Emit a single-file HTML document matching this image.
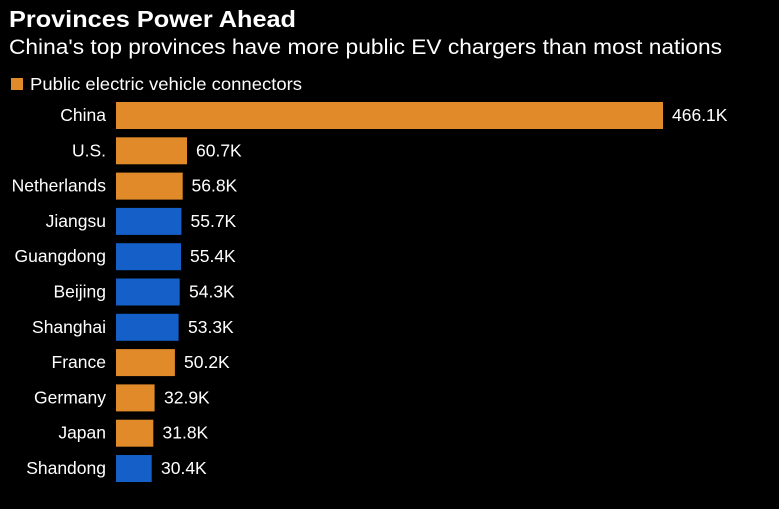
<!DOCTYPE html>
<html><head><meta charset="utf-8"><style>
html,body{margin:0;padding:0;background:#000;}
svg{display:block;font-family:"Liberation Sans",sans-serif;}
</style></head><body>
<svg width="779" height="509" xmlns="http://www.w3.org/2000/svg">
<rect width="779" height="509" fill="#000"/>
<text x="9" y="27" fill="#fff" font-size="23" font-weight="bold" textLength="287" lengthAdjust="spacingAndGlyphs">Provinces Power Ahead</text>
<text x="9" y="54" fill="#fff" font-size="21" textLength="713" lengthAdjust="spacingAndGlyphs">China's top provinces have more public EV chargers than most nations</text>
<rect x="11" y="78" width="12" height="12" fill="#e08a2a"/>
<text x="30" y="90" fill="#fff" font-size="17.5" textLength="272" lengthAdjust="spacingAndGlyphs">Public electric vehicle connectors</text>
<g font-size="17.5" fill="#fff">
<rect x="116" y="102" width="547" height="27" fill="#e08a2a"/><text x="106" y="121" text-anchor="end">China</text><text x="672" y="121">466.1K</text>
<rect x="116" y="137.3" width="71" height="27" fill="#e08a2a"/><text x="106" y="156.3" text-anchor="end">U.S.</text><text x="196" y="156.3">60.7K</text>
<rect x="116" y="172.6" width="66.7" height="27" fill="#e08a2a"/><text x="106" y="191.6" text-anchor="end">Netherlands</text><text x="191.5" y="191.6">56.8K</text>
<rect x="116" y="207.9" width="65.4" height="27" fill="#1560c8"/><text x="106" y="226.9" text-anchor="end">Jiangsu</text><text x="190.5" y="226.9">55.7K</text>
<rect x="116" y="243.2" width="65" height="27" fill="#1560c8"/><text x="106" y="262.2" text-anchor="end">Guangdong</text><text x="190" y="262.2">55.4K</text>
<rect x="116" y="278.5" width="63.7" height="27" fill="#1560c8"/><text x="106" y="297.5" text-anchor="end">Beijing</text><text x="189" y="297.5">54.3K</text>
<rect x="116" y="313.8" width="62.6" height="27" fill="#1560c8"/><text x="106" y="332.8" text-anchor="end">Shanghai</text><text x="188" y="332.8">53.3K</text>
<rect x="116" y="349.1" width="58.9" height="27" fill="#e08a2a"/><text x="106" y="368.1" text-anchor="end">France</text><text x="184" y="368.1">50.2K</text>
<rect x="116" y="384.4" width="38.6" height="27" fill="#e08a2a"/><text x="106" y="403.4" text-anchor="end">Germany</text><text x="164" y="403.4">32.9K</text>
<rect x="116" y="419.7" width="37.3" height="27" fill="#e08a2a"/><text x="106" y="438.7" text-anchor="end">Japan</text><text x="162.5" y="438.7">31.8K</text>
<rect x="116" y="455" width="35.7" height="27" fill="#1560c8"/><text x="106" y="474" text-anchor="end">Shandong</text><text x="161" y="474">30.4K</text>
</g>
</svg>
</body></html>
